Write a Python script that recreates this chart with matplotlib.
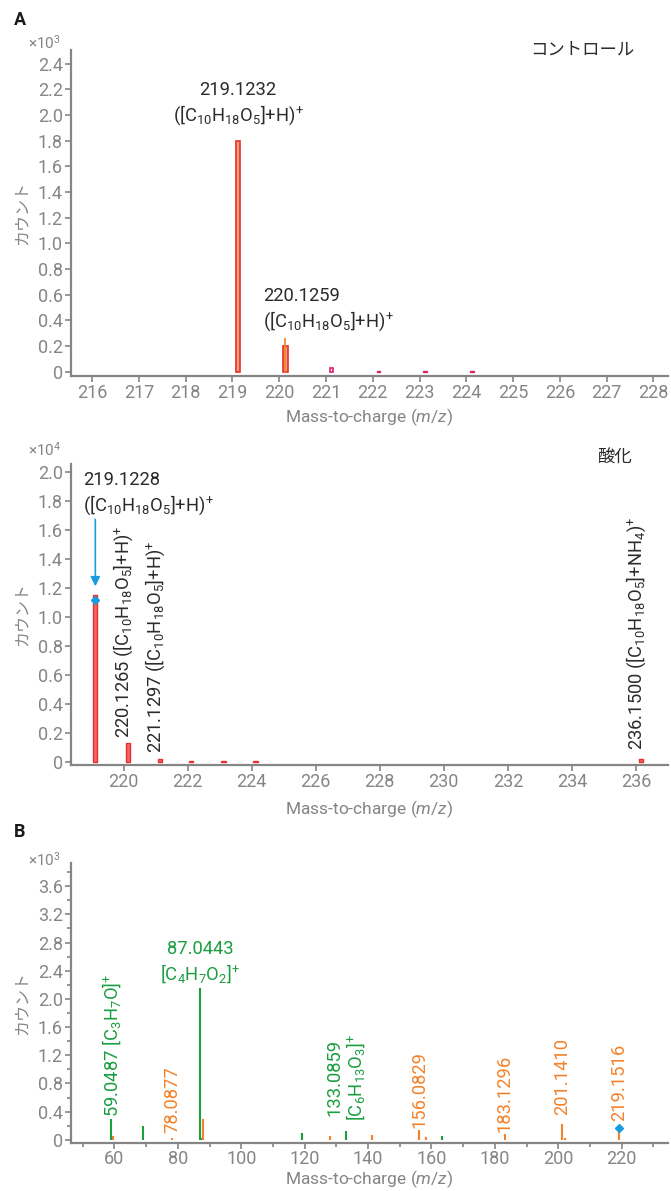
import matplotlib
matplotlib.use("Agg")
import matplotlib.pyplot as plt
from matplotlib.ticker import MultipleLocator, FuncFormatter

plt.rcParams['font.family'] = ['Roboto', 'Noto Sans CJK JP', 'DejaVu Sans']
plt.rcParams['mathtext.fontset'] = 'custom'
plt.rcParams['mathtext.rm'] = 'Roboto'
plt.rcParams['mathtext.it'] = 'Roboto:italic'
plt.rcParams['mathtext.bf'] = 'Roboto:bold'

# ---------------- data ----------------
# Panel A (control), counts x10^3
ctrl_mz = [219.12, 220.13, 221.12, 222.12, 223.12, 224.12]
ctrl_counts = [1.80, 0.20, 0.03, 0.004, 0.004, 0.004]
ctrl_stick_mz = [220.13]
ctrl_stick_counts = [0.26]

# Panel A (oxidized), counts x10^4
ox_mz = [219.12, 220.13, 221.13, 222.12, 223.12, 224.12, 236.15]
ox_counts = [1.15, 0.13, 0.015, 0.003, 0.003, 0.003, 0.02]
ox_precursor_mz = 219.12
ox_precursor_y = 1.115

# Panel B (MS/MS), counts x10^3
green_mz = [59.05, 68.9, 87.04, 87.6, 119.1, 133.09, 163.2]
green_counts = [0.29, 0.19, 2.15, 0.03, 0.09, 0.13, 0.06]
orange_mz = [59.4, 78.09, 88.05, 128.0, 141.2, 156.08, 158.2, 183.13, 201.14, 202.2, 219.15]
orange_counts = [0.05, 0.02, 0.29, 0.05, 0.07, 0.14, 0.04, 0.08, 0.23, 0.03, 0.17]
b_precursor_mz = 219.15
b_precursor_y = 0.17

GRAY = '#858585'
TXT = '#2b2b2b'
RED = '#e8302a'
SALMON = '#f4a07e'
PINK = '#e0206e'
BLUE = '#1a9be0'
GREEN = '#1a9e40'
ORANGE = '#f5822a'

FS = 13.2
FORM = r'([C$_{10}$H$_{18}$O$_5$]+H)$^{+}$'

fig = plt.figure(figsize=(6.71, 11.91), dpi=100)

def style(ax, labelpad=4, tickpad=2):
    for s in ['top', 'right']:
        ax.spines[s].set_visible(False)
    for s in ['left', 'bottom']:
        ax.spines[s].set_color(GRAY)
        ax.spines[s].set_linewidth(1.6)
    ax.tick_params(axis='both', which='both', colors=GRAY, labelcolor=GRAY,
                   labelsize=13, length=4, width=1.2, pad=2)
    ax.tick_params(axis='x', which='both', pad=tickpad)
    ax.tick_params(axis='both', which='minor', length=3)
    ax.yaxis.set_major_formatter(FuncFormatter(lambda v, p: '0' if abs(v) < 1e-9 else f'{v:.1f}'))
    ax.set_xlabel(r'Mass-to-charge ($m/z$)', color=GRAY, fontsize=12.5, labelpad=labelpad)
    ax.set_ylabel('カウント', color=GRAY, fontsize=11.5, labelpad=6)

# ---------------- panel A control ----------------
ax1 = fig.add_axes([0.1058, 0.6843, 0.8897, 0.2737])
ax1.bar(ctrl_mz[:2], ctrl_counts[:2], width=0.1, color=SALMON, edgecolor=RED, linewidth=1.2)
ax1.vlines(ctrl_stick_mz, 0, ctrl_stick_counts, color=ORANGE, linewidth=1.2, zorder=1)
ax1.bar(ctrl_mz[2:3], ctrl_counts[2:3], width=0.08, color='white', edgecolor=PINK, linewidth=1.2)
ax1.bar(ctrl_mz[3:], ctrl_counts[3:], width=0.08, color=PINK, edgecolor=PINK, linewidth=1.0)
ax1.set_xlim(215.55, 228.31)
ax1.set_ylim(-0.0335, 2.507)
ax1.xaxis.set_major_locator(MultipleLocator(1))
ax1.yaxis.set_major_locator(MultipleLocator(0.2))
style(ax1, 3)
ax1.text(ctrl_mz[0], 1.91, '219.1232\n' + FORM, ha='center', va='bottom',
         fontsize=FS, color=TXT, linespacing=1.25)
ax1.text(219.65, 0.30, '220.1259\n' + FORM, ha='left', va='bottom',
         fontsize=FS, color=TXT, linespacing=1.25)
ax1.text(0.857, 1.0, 'コントロール', transform=ax1.transAxes, ha='center', va='center',
         fontsize=12.5, color=TXT)

# ---------------- panel A oxidized ----------------
ax2 = fig.add_axes([0.1058, 0.3577, 0.8897, 0.2527])
ax2.bar(ox_mz, ox_counts, width=0.13, color='#f06868', edgecolor=RED, linewidth=1.0)
ax2.plot([ox_precursor_mz], [ox_precursor_y], marker='D', color=BLUE, markersize=4, zorder=5)
ax2.annotate('', xy=(ox_precursor_mz, 1.19), xytext=(ox_precursor_mz, 1.69),
             arrowprops=dict(arrowstyle='-|>', color=BLUE, lw=1.2, mutation_scale=14))
ax2.set_xlim(218.36, 237.0)
ax2.set_ylim(-0.023, 2.053)
ax2.xaxis.set_major_locator(MultipleLocator(2))
ax2.yaxis.set_major_locator(MultipleLocator(0.2))
style(ax2, 5)
ax2.text(218.74, 1.69, '219.1228\n' + FORM, ha='left', va='bottom',
         fontsize=FS, color=TXT, linespacing=1.25)
ax2.text(220.0, 0.16, '220.1265 ' + FORM, rotation=90, ha='center', va='bottom',
         fontsize=FS, color=TXT)
ax2.text(221.0, 0.06, '221.1297 ' + FORM, rotation=90, ha='center', va='bottom',
         fontsize=FS, color=TXT)
ax2.text(236.0, 0.08, '236.1500 ' + r'([C$_{10}$H$_{18}$O$_5$]+NH$_4$)$^{+}$', rotation=90,
         ha='center', va='bottom', fontsize=FS, color=TXT)
ax2.text(0.911, 1.02, '酸化', transform=ax2.transAxes, ha='center', va='center',
         fontsize=12.5, color=TXT)

# ---------------- panel B ----------------
ax3 = fig.add_axes([0.1058, 0.0403, 0.8897, 0.2351])
ax3.vlines(green_mz, 0, green_counts, color=GREEN, linewidth=1.5)
ax3.vlines(orange_mz, 0, orange_counts, color=ORANGE, linewidth=1.5)
ax3.plot([b_precursor_mz], [b_precursor_y], marker='D', color=BLUE, markersize=4, zorder=5)
ax3.set_xlim(46.3, 234.6)
ax3.set_ylim(-0.046, 3.93)
ax3.xaxis.set_major_locator(MultipleLocator(20))
ax3.xaxis.set_minor_locator(MultipleLocator(10))
ax3.yaxis.set_major_locator(MultipleLocator(0.4))
ax3.yaxis.set_minor_locator(MultipleLocator(0.2))
style(ax3, 0, 1)
ax3.text(87.04, 2.2, '87.0443\n' + r'[C$_4$H$_7$O$_2$]$^{+}$', ha='center', va='bottom',
         fontsize=FS, color=GREEN, linespacing=1.25)
ax3.text(59.05, 0.33, '59.0487 ' + r'[C$_3$H$_7$O]$^{+}$', rotation=90, ha='center', va='bottom',
         fontsize=FS, color=GREEN)
ax3.text(133.09, 0.27, '133.0859\n' + r'[C$_6$H$_{13}$O$_3$]$^{+}$', rotation=90, ha='center',
         va='bottom', fontsize=FS, color=GREEN, linespacing=1.1)
for mz, lab, y in [(78.3, '78.0877', 0.10), (156.08, '156.0829', 0.17), (183.13, '183.1296', 0.11),
                   (201.14, '201.1410', 0.35), (219.15, '219.1516', 0.27)]:
    ax3.text(mz, y, lab, rotation=90, ha='center', va='bottom', fontsize=FS, color=ORANGE)

# multipliers and panel letters
fig.text(0.042, 0.9639, r'×10$^{3}$', ha='left', va='center', fontsize=11, color=GRAY)
fig.text(0.042, 0.6222, r'×10$^{4}$', ha='left', va='center', fontsize=11, color=GRAY)
fig.text(0.042, 0.2780, r'×10$^{3}$', ha='left', va='center', fontsize=11, color=GRAY)
fig.text(0.021, 0.983, 'A', ha='left', va='center', fontsize=13, fontweight='bold', color='#1a1a1a')
fig.text(0.021, 0.3015, 'B', ha='left', va='center', fontsize=13, fontweight='bold', color='#1a1a1a')

fig.savefig('out.png', dpi=100)
